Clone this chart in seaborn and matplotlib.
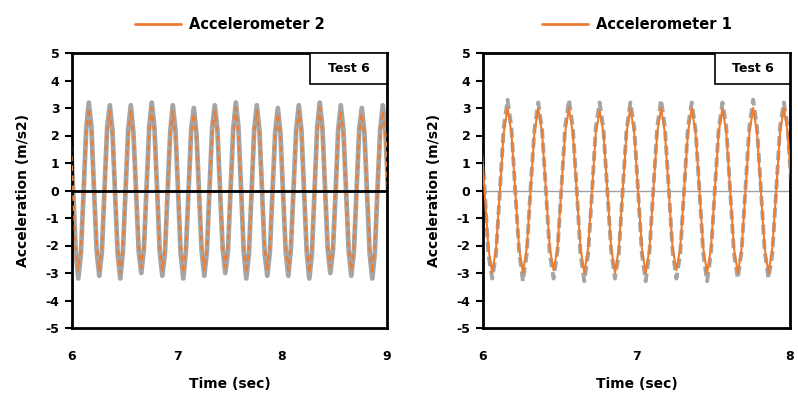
import numpy as np
import matplotlib
matplotlib.use("Agg")
import matplotlib.pyplot as plt
import matplotlib.patches as patches
from matplotlib.lines import Line2D
import seaborn as sns

left_gray = [
    2.2, 0.1, -2.2, -3.2, -2.3, -0.1, 2.2, 3.2,
    2.3, 0.0, -2.2, -3.1, -2.2, 0.1, 2.3, 3.1,
    2.2, -0.1, -2.3, -3.2, -2.2, 0.0, 2.2, 3.1,
    2.1, 0.0, -2.2, -3.0, -2.1, 0.1, 2.3, 3.2,
    2.3, 0.1, -2.2, -3.1, -2.3, -0.1, 2.1, 3.1,
    2.2, 0.0, -2.3, -3.2, -2.2, 0.0, 2.2, 3.0,
    2.1, -0.1, -2.2, -3.1, -2.2, 0.1, 2.3, 3.1,
    2.2, 0.0, -2.1, -3.0, -2.2, 0.0, 2.2, 3.2,
    2.3, 0.1, -2.2, -3.2, -2.3, -0.1, 2.2, 3.1,
    2.2, 0.0, -2.3, -3.1, -2.2, 0.0, 2.1, 3.0,
    2.1, -0.1, -2.2, -3.1, -2.1, 0.1, 2.2, 3.1,
    2.2, 0.0, -2.2, -3.2, -2.3, 0.0, 2.3, 3.2,
    2.3, 0.1, -2.1, -3.0, -2.2, -0.1, 2.2, 3.1,
    2.2, 0.0, -2.2, -3.1, -2.2, 0.0, 2.2, 3.0,
    2.1, -0.1, -2.3, -3.2, -2.2, 0.1, 2.2, 3.1,
    2.2, 0.0,
]
left_acc2 = [
    2.0, 0.0, -2.1, -2.9, -2.1, 0.0, 2.1, 3.0,
    2.1, 0.0, -2.0, -2.9, -2.1, 0.0, 2.1, 2.9,
    2.0, 0.0, -2.1, -3.0, -2.0, 0.0, 2.0, 2.9,
    2.0, 0.0, -2.0, -2.8, -2.0, 0.0, 2.1, 3.0,
    2.1, 0.0, -2.1, -2.9, -2.1, 0.0, 2.0, 2.9,
    2.0, 0.0, -2.1, -3.0, -2.0, 0.0, 2.1, 2.8,
    2.0, 0.0, -2.0, -2.9, -2.1, 0.0, 2.1, 2.9,
    2.1, 0.0, -2.0, -2.8, -2.0, 0.0, 2.0, 3.0,
    2.1, 0.0, -2.1, -3.0, -2.1, 0.0, 2.1, 2.9,
    2.0, 0.0, -2.1, -2.9, -2.0, 0.0, 2.0, 2.8,
    2.0, 0.0, -2.0, -2.9, -2.0, 0.0, 2.1, 2.9,
    2.1, 0.0, -2.1, -3.0, -2.1, 0.0, 2.1, 3.0,
    2.1, 0.0, -2.0, -2.8, -2.0, 0.0, 2.0, 2.9,
    2.0, 0.0, -2.1, -2.9, -2.1, 0.0, 2.1, 2.8,
    2.0, 0.0, -2.1, -3.0, -2.0, 0.0, 2.0, 2.9,
    2.0, 0.0,
]
right_gray = [
    2.3, 0.1, -2.3, -3.2, -2.3, 0.0, 2.3, 3.3,
    2.3, 0.0, -2.2, -3.3, -2.3, 0.1, 2.2, 3.2,
    2.2, 0.0, -2.3, -3.2, -2.2, 0.0, 2.3, 3.3,
    2.3, 0.1, -2.3, -3.3, -2.3, -0.1, 2.3, 3.2,
    2.2, 0.0, -2.2, -3.2, -2.3, 0.0, 2.2, 3.2,
    2.3, 0.0, -2.3, -3.3, -2.2, 0.1, 2.3, 3.3,
    2.3, 0.1, -2.2, -3.2, -2.3, 0.0, 2.3, 3.2,
    2.2, 0.0, -2.3, -3.3, -2.3, 0.0, 2.2, 3.2,
    2.3, 0.0, -2.3, -3.2, -2.2, 0.1, 2.3, 3.3,
    2.3, 0.1, -2.2, -3.2, -2.3, 0.0, 2.3, 3.2,
    2.3, 0.0,
]
right_acc1 = [
    2.1, 0.0, -2.1, -3.0, -2.1, 0.0, 2.1, 3.0,
    2.1, 0.0, -2.1, -3.0, -2.1, 0.0, 2.1, 3.0,
    2.1, 0.0, -2.1, -2.9, -2.1, 0.0, 2.1, 3.0,
    2.1, 0.0, -2.1, -3.0, -2.1, 0.0, 2.1, 2.9,
    2.1, 0.0, -2.1, -3.0, -2.1, 0.0, 2.1, 3.0,
    2.1, 0.0, -2.1, -3.0, -2.1, 0.0, 2.1, 3.0,
    2.1, 0.0, -2.1, -2.9, -2.1, 0.0, 2.1, 3.0,
    2.1, 0.0, -2.1, -3.0, -2.1, 0.0, 2.1, 3.0,
    2.1, 0.0, -2.1, -3.0, -2.1, 0.0, 2.1, 3.0,
    2.1, 0.0, -2.1, -3.0, -2.1, 0.0, 2.1, 3.0,
    2.1, 0.0,
]
t_left = np.linspace(5.985, 9.01, len(left_gray))
t_right = np.linspace(5.985, 8.01, len(right_gray))

left_xticks = [6, 7, 8, 9]
right_xticks = [6, 7, 8]
yticks = list(range(-5, 6))

ORANGE = "#ED7D31"
GRAY = "#A5A5A5"

sns.set_style("white")
plt.rcParams["font.family"] = ["DejaVu Sans"]
plt.rcParams["font.weight"] = "bold"
plt.rcParams["axes.unicode_minus"] = False
plt.rcParams["text.color"] = "black"
plt.rcParams["axes.labelcolor"] = "black"
plt.rcParams["xtick.color"] = "black"
plt.rcParams["ytick.color"] = "black"

fig = plt.figure(figsize=(7.98, 3.96), dpi=100)
ax1 = fig.add_axes([72 / 798, 1 - 328 / 396, 315 / 798, 275 / 396])
ax2 = fig.add_axes([483 / 798, 1 - 328 / 396, 307 / 798, 275 / 396])

# left panel: accelerometer 2
ax1.axhline(0, color="black", lw=2, zorder=5)
sns.lineplot(x=t_left, y=left_gray, ax=ax1, color=GRAY, lw=3.4,
             estimator=None, sort=False, zorder=2)
sns.lineplot(x=t_left, y=left_acc2, ax=ax1, color=ORANGE, lw=1.6,
             linestyle=(0, (2.5, 2)), estimator=None, sort=False, zorder=3)
ax1.set_xlim(6, 9)
ax1.set_xticks(left_xticks)

# right panel: accelerometer 1
ax2.axhline(0, color="#A0A0A0", lw=1, zorder=1)
sns.lineplot(x=t_right, y=right_gray, ax=ax2, color=GRAY, lw=2.8,
             linestyle=(0, (2.5, 1.2)), estimator=None, sort=False, zorder=2)
sns.lineplot(x=t_right, y=right_acc1, ax=ax2, color=ORANGE, lw=1.5,
             estimator=None, sort=False, zorder=3)
ax2.set_xlim(6, 8)
ax2.set_xticks(right_xticks)

for ax, name in [(ax1, "Accelerometer 2"), (ax2, "Accelerometer 1")]:
    ax.set_ylim(-5, 5)
    ax.set_yticks(yticks)
    for s in ax.spines.values():
        s.set_visible(True)
        s.set_color("black")
        s.set_linewidth(2)
    ax.tick_params(axis="y", direction="out", length=5, width=1.5,
                   labelsize=9, pad=4, left=True)
    ax.tick_params(axis="x", length=0, labelsize=9, pad=16)
    for lab in ax.get_xticklabels() + ax.get_yticklabels():
        lab.set_fontweight("bold")
    ax.set_xlabel("Time (sec)", fontsize=10, fontweight="bold", labelpad=10)
    ax.set_ylabel("Acceleration (m/s2)", fontsize=10, fontweight="bold", labelpad=11)

    # "Test 6" box in the top right corner
    box = patches.Rectangle((0.755, 0.887), 0.245, 0.113, transform=ax.transAxes,
                            facecolor="white", edgecolor="black", lw=1.2, zorder=6)
    ax.add_patch(box)
    ax.text(0.8775, 0.943, "Test 6", transform=ax.transAxes, ha="center",
            va="center", fontsize=9, fontweight="bold", zorder=7)

    handle = Line2D([], [], color=ORANGE, lw=2)
    ax.legend([handle], [name], loc="lower center", bbox_to_anchor=(0.5, 1.03),
              frameon=False, handlelength=3.2, handletextpad=0.5,
              prop={"size": 10.5, "weight": "bold"})

fig.savefig("out.png", dpi=100)
